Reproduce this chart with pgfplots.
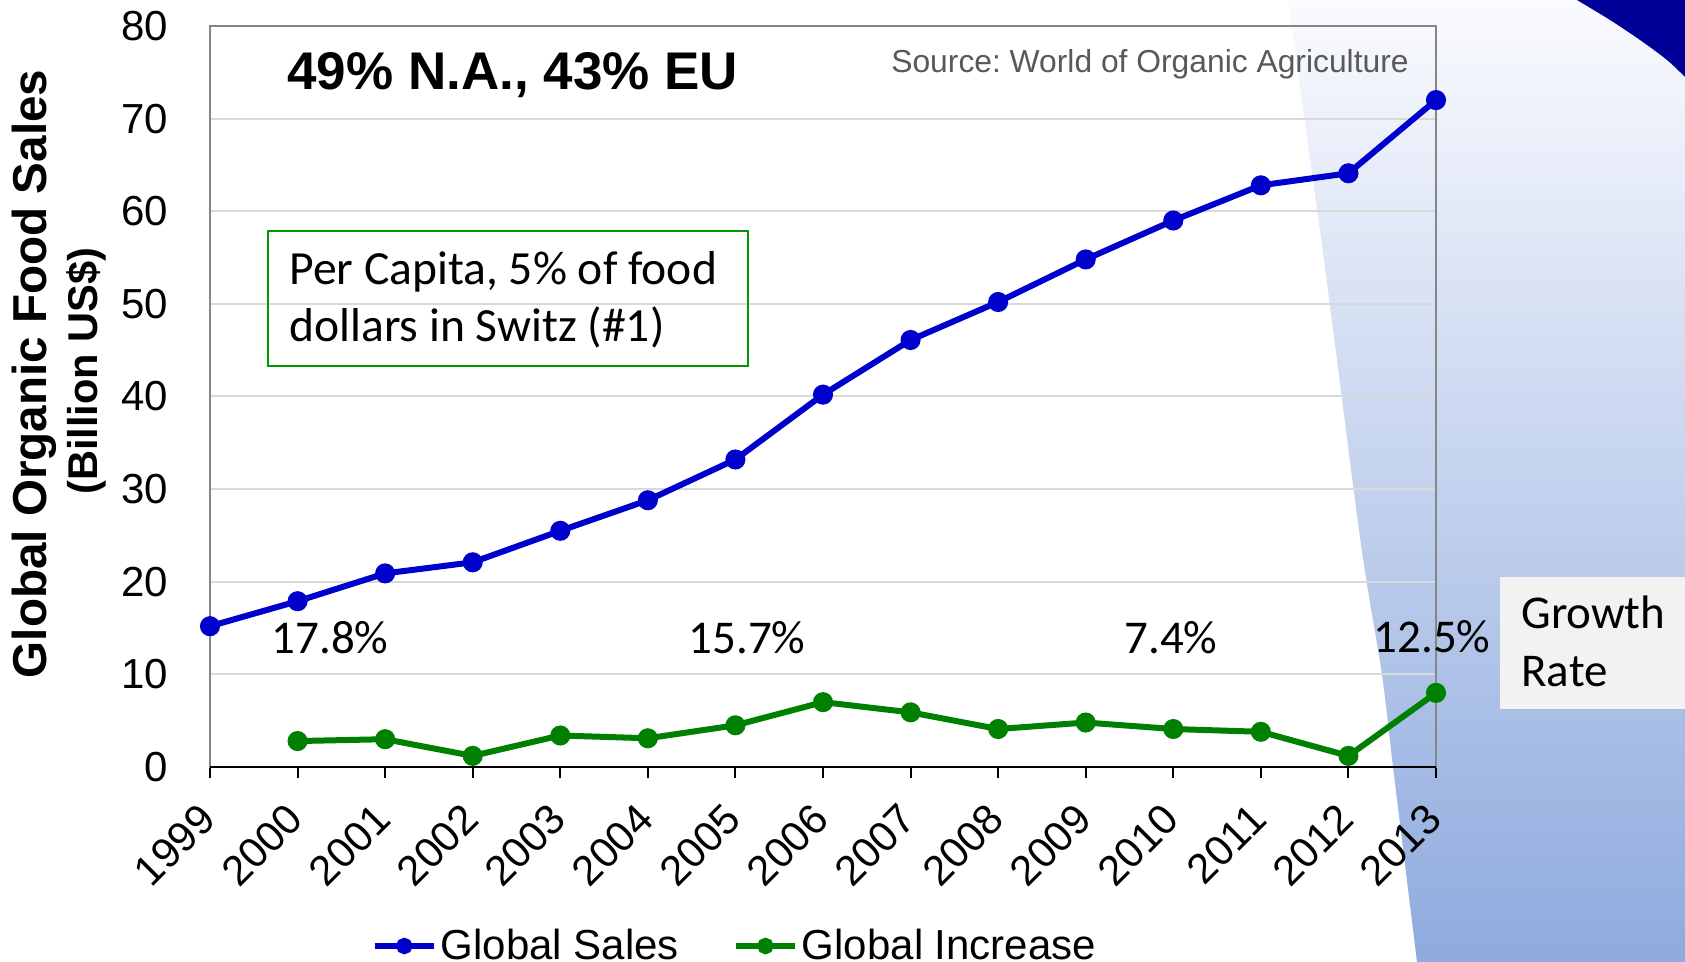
\documentclass[border=0pt]{standalone}
\usepackage{fontspec}
\setmainfont{Liberation Sans}
\newfontfamily\calibri{Carlito}
\usepackage{pgfplots}
\pgfplotsset{compat=1.18}

\definecolor{salesblue}{RGB}{0,0,204}
\definecolor{incgreen}{RGB}{0,128,0}
\definecolor{gridgray}{RGB}{217,217,217}
\definecolor{framegray}{RGB}{134,134,134}
\definecolor{navy}{RGB}{0,0,153}
\definecolor{shadetop}{RGB}{250,251,254}
\definecolor{shadebot}{RGB}{142,170,222}
\definecolor{boxgreen}{RGB}{0,153,0}
\definecolor{boxgray}{RGB}{242,242,242}
\definecolor{srcgray}{RGB}{89,89,89}

\begin{document}
\begin{tikzpicture}[x=0.5pt,y=0.5pt]
\useasboundingbox (0,0) rectangle (1685,962);
\fill[white] (0,0) rectangle (1685,962);
% slide background: shaded wedge and dark corner
\shade[top color=shadetop, bottom color=shadebot]
  plot[smooth] coordinates {(1288,962) (1305,839) (1322,717) (1338,594) (1362,410) (1382,287) (1393,195) (1417,0)}
  -- (1685,0) -- (1685,962) -- cycle;
\fill[navy] plot[smooth] coordinates {(1577,962) (1610,942) (1640,922) (1667,902) (1685,885)} -- (1685,962) -- cycle;
\fill[boxgray] (1500,253) rectangle (1685,385);

\begin{axis}[
    at={(105pt,97.5pt)}, anchor=south west,
    scale only axis,
    width=613pt, height=370.5pt,
    xmin=0, xmax=14,
    ymin=0, ymax=80,
    xtick={0,1,...,14},
    xticklabels={1999,2000,2001,2002,2003,2004,2005,2006,2007,2008,2009,2010,2011,2012,2013},
    ytick={0,10,...,80},
    ymajorgrids,
    grid style={gridgray, line width=1pt},
    axis line style={framegray, line width=1pt},
    tick align=outside,
    tick pos=left,
    major tick length=5.5pt,
    ytick style={draw=none},
    xtick style={black, line width=1pt},
    ticklabel style={font=\fontsize{21}{25}\selectfont},
    /pgf/number format/assume math mode=true,
    yticklabel style={xshift=-12pt},
    % shifts act in the rotated frame
    xticklabel style={rotate=45, anchor=east, xshift=-9.3pt, yshift=-11.2pt},
    clip=false,
    legend style={
        at={(0.429,-0.2416)}, anchor=center,
        draw=none, fill=none,
        legend columns=2,
        font=\fontsize{21}{25}\selectfont,
        /tikz/every even column/.append style={column sep=25pt},
    },
    legend image code/.code={
        \draw[#1, mark=none] (0pt,0pt) -- (29.5pt,0pt);
        \draw[#1, mark size=2.6pt] plot coordinates {(14.75pt,0pt)};
    },
]
\addplot[salesblue, line width=3pt, mark=*, mark size=3.5pt] coordinates {
    (0,15.2)(1,17.9)(2,20.9)(3,22.1)(4,25.5)(5,28.8)(6,33.2)(7,40.2)
    (8,46.1)(9,50.2)(10,54.8)(11,59.0)(12,62.8)(13,64.1)(14,72.0)
};
\addlegendentry{Global Sales}
\addplot[incgreen, line width=3pt, mark=*, mark size=3.5pt] coordinates {
    (1,2.8)(2,3.0)(3,1.2)(4,3.4)(5,3.1)(6,4.5)(7,7.0)
    (8,5.9)(9,4.1)(10,4.8)(11,4.1)(12,3.8)(13,1.2)(14,8.0)
};
\addlegendentry{Global Increase}
\draw[black, line width=1pt] (axis cs:0,0) -- (axis cs:14,0);
\end{axis}

% annotations
\node[anchor=west, inner sep=0, font=\bfseries\fontsize{26.5}{30}\selectfont] at (287,887) {49\% N.A., 43\% EU};
\node[anchor=east, inner sep=0, text=srcgray, font=\fontsize{15.9}{19}\selectfont] at (1409,898) {\frenchspacing Source: World of Organic Agriculture};
\draw[boxgreen, line width=1pt] (268,596) rectangle (748,731);
\node[anchor=base west, inner sep=0, font=\calibri\fontsize{23.8}{28}\selectfont] at (289,677) {Per Capita, 5\% of food};
\node[anchor=base west, inner sep=0, font=\calibri\fontsize{23.8}{28}\selectfont] at (289,620) {dollars in Switz (\#1)};
\node[anchor=base, inner sep=0, font=\calibri\fontsize{23.5}{28}\selectfont] at (330,308) {17.8\%};
\node[anchor=base, inner sep=0, font=\calibri\fontsize{23.5}{28}\selectfont] at (747,308) {15.7\%};
\node[anchor=base, inner sep=0, font=\calibri\fontsize{23.5}{28}\selectfont] at (1171,308) {7.4\%};
\node[anchor=base, inner sep=0, font=\calibri\fontsize{23.5}{28}\selectfont] at (1432,309) {12.5\%};
\node[anchor=base west, inner sep=0, font=\calibri\fontsize{23.5}{28}\selectfont] at (1521,333) {Growth};
\node[anchor=base west, inner sep=0, font=\calibri\fontsize{23.5}{28}\selectfont] at (1521,275) {Rate};
\node[rotate=90, inner sep=0, font=\bfseries\fontsize{23.8}{28}\selectfont] at (34,588) {Global Organic Food Sales};
\node[rotate=90, inner sep=0, font=\bfseries\fontsize{20.8}{25}\selectfont] at (86,591) {(Billion US\$)};
\end{tikzpicture}
\end{document}
